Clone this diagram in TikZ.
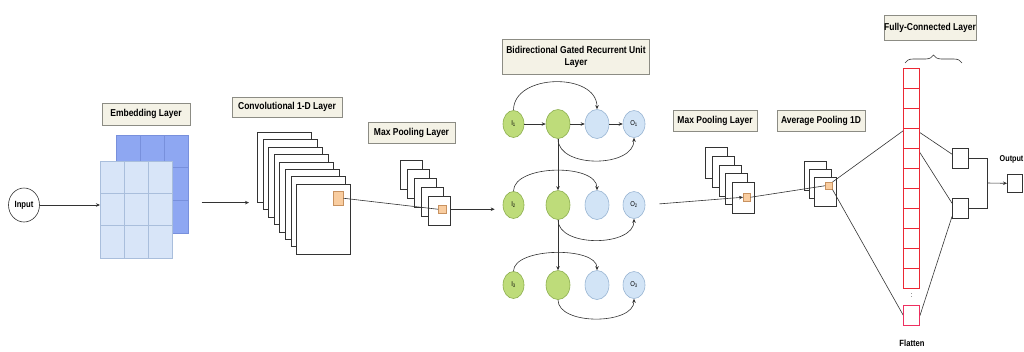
\documentclass[tikz,border=0pt]{standalone}
\usepackage{fontspec}
\setmainfont{Liberation Sans}[FakeStretch=0.85]
\usetikzlibrary{arrows.meta,decorations.pathreplacing,calc,shapes.geometric}

\definecolor{lblfill}{HTML}{F4F2E6}
\definecolor{lbldraw}{HTML}{8C8C84}
\definecolor{embback}{HTML}{8EA7F2}
\definecolor{embbackline}{HTML}{7890DC}
\definecolor{embfront}{HTML}{D8E5F8}
\definecolor{embfrontline}{HTML}{A9BEDC}
\definecolor{orfill}{HTML}{F9CDA0}
\definecolor{ordraw}{HTML}{C89260}
\definecolor{grfill}{HTML}{BEDC7A}
\definecolor{grdraw}{HTML}{8CAE4E}
\definecolor{blfill}{HTML}{D2E4F6}
\definecolor{bldraw}{HTML}{98B4D2}
\definecolor{fcred}{RGB}{236,40,52}
\definecolor{fcpink}{RGB}{238,48,96}
\definecolor{ln}{HTML}{333333}

\begin{document}
\begin{tikzpicture}[x=1pt,y=-1pt,
  lbl/.style={draw=lbldraw, fill=lblfill, inner sep=0pt, font=\fontsize{10}{12}\selectfont\bfseries, align=center},
  sheet/.style={draw=ln, fill=white, line width=0.6pt, inner sep=0pt, anchor=north west},
  orsq/.style={draw=ordraw, fill=orfill, line width=0.5pt, inner sep=0pt, anchor=north west},
  gnode/.style={ellipse, draw=grdraw, fill=grfill, line width=0.6pt, inner sep=0pt, font=\fontsize{7}{8}\selectfont},
  bnode/.style={ellipse, draw=bldraw, fill=blfill, line width=0.6pt, inner sep=0pt, font=\fontsize{7}{8}\selectfont},
  fccell/.style={rectangle, fill=white, inner sep=0pt, anchor=north west, minimum width=16pt, minimum height=20pt},
  redline/.style={color=fcred, line width=1pt},
  smallbox/.style={draw=ln, fill=white, line width=0.6pt, inner sep=0pt, anchor=north west},
  conn/.style={draw=ln, line width=0.6pt},
  arr/.style={conn, -{Stealth[length=4pt,width=3.5pt]}},
  plain/.style={font=\fontsize{9}{10}\selectfont\bfseries}
]
\useasboundingbox (0,0) rectangle (1024,351);

% ---------- Input ----------
\node[ellipse, draw=ln, line width=0.6pt, minimum width=31pt, minimum height=34pt, inner sep=0pt, plain] (inp) at (24,205) {Input};

% ---------- Embedding ----------
\node[lbl, minimum width=88pt, minimum height=22pt] (lemb) at (146,114) {Embedding Layer};
\node[draw=embbackline, fill=embback, line width=0.5pt, minimum width=72pt, minimum height=98pt, inner sep=0pt, anchor=north west] (embB) at (116,135) {};
\draw[embbackline, line width=0.5pt] (140,135) -- (140,233) (164,135) -- (164,233)
  (116,167.7) -- (188,167.7) (116,200.3) -- (188,200.3);
\node[draw=embfrontline, fill=embfront, line width=0.5pt, minimum width=72pt, minimum height=97pt, inner sep=0pt, anchor=north west] (embF) at (100,161) {};
\draw[embfrontline, line width=0.5pt] (124,161) -- (124,258) (148,161) -- (148,258)
  (100,193.3) -- (172,193.3) (100,225.7) -- (172,225.7);
\draw[arr] (inp.east) -- (inp.east -| embF.west);

% ---------- Convolutional ----------
\node[lbl, minimum width=110pt, minimum height=20pt] (lconv) at (287,107) {Convolutional 1-D Layer};
\foreach \i in {0,...,7} {
  \node[sheet, minimum width=54pt, minimum height=70pt] (cv\i) at ({257+5.6*\i},{132+7.4*\i}) {};
}
\node[orsq, minimum width=10pt, minimum height=14pt] (cvo) at (333,191) {};
\draw[arr, shorten <=13pt, shorten >=8pt] (embB.east |- cv0.south west) -- (cv0.south west);

% ---------- Max pooling 1 ----------
\node[lbl, minimum width=87pt, minimum height=21pt] (lmp1) at (411.5,132.5) {Max Pooling Layer};
\foreach \i in {0,...,4} {
  \node[sheet, minimum width=22pt, minimum height=29pt] (mpa\i) at ({400+7*\i},{160+9*\i}) {};
}
\node[orsq, minimum width=8pt, minimum height=8pt] (mp1o) at (438,205) {};
\draw[conn] (cvo.east) -- (mp1o.west);

% ---------- GRU ----------
\node[lbl, minimum width=147pt, minimum height=35pt] (lgru) at (576,56.5) {Bidirectional Gated Recurrent Unit\\Layer};
\foreach \r/\y in {1/124,2/205,3/285} {
  \node[gnode, minimum width=21pt, minimum height=27pt] (I\r) at (513.5,\y) {I\textsubscript{\r}};
  \node[gnode, minimum width=24pt, minimum height=29pt] (M\r) at (558,\y) {};
  \node[bnode, minimum width=24pt, minimum height=29pt] (B\r) at (597,\y) {};
  \node[bnode, minimum width=22pt, minimum height=27pt] (O\r) at (634,\y) {O\textsubscript{\r}};
}
\draw[arr] (I1) -- (M1);
\draw[arr] (M1) -- (B1);
\draw[arr] (B1) -- (O1);
\draw[arr] (I1.north) .. controls +(0,-37) and +(0,-37) .. (B1.north);
\draw[arr] (I2.north) .. controls +(0,-27) and +(0,-27) .. (B2.north);
\draw[arr] (I3.north) .. controls +(0,-24) and +(0,-24) .. (B3.north);
\draw[arr] (M1.south) .. controls +(0,30) and +(0,30) .. (O1.south);
\draw[arr] (M2.south) .. controls +(0,28) and +(0,28) .. (O2.south);
\draw[arr] (M3.south) .. controls +(0,26) and +(0,26) .. (O3.south);
\draw[arr] (M1.south) -- (M2.north);
\draw[arr] (M2.south) -- (M3.north);
\draw[arr, shorten >=8pt] (mp1o.east -| mpa4.east) -- (I2.west |- mp1o.east);

% ---------- Max pooling 2 ----------
\node[lbl, minimum width=84pt, minimum height=21pt] (lmp2) at (715,120.5) {Max Pooling Layer};
\foreach \i in {0,...,4} {
  \node[sheet, minimum width=22pt, minimum height=31pt] (mpb\i) at ({705+6.75*\i},{147+8.75*\i}) {};
}
\node[orsq, minimum width=7pt, minimum height=8pt] (mp2o) at (743,193) {};
\draw[arr, shorten <=14pt] (O2.east) -- (mp2o.west);

% ---------- Average pooling ----------
\node[lbl, minimum width=88pt, minimum height=21pt] (lavg) at (821,120.5) {Average Pooling 1D};
\foreach \i in {0,...,2} {
  \node[sheet, minimum width=22pt, minimum height=29pt] (avb\i) at ({804+5*\i},{161+8*\i}) {};
}
\node[orsq, minimum width=7pt, minimum height=7pt] (avo) at (825,182) {};
\draw[conn] (mp2o.east) -- (avo.west);

% ---------- Fully connected / Flatten ----------
\node[lbl, minimum width=84pt, minimum height=25pt] (lfc) at (930,27.5) {Fully-Connected Layer};
\draw[decorate, decoration={brace, amplitude=8pt}, ln, line width=0.6pt] (905,63) -- (962,63);

\node[smallbox, minimum width=16pt, minimum height=20pt] (ub) at (952,148) {};
\node[smallbox, minimum width=16pt, minimum height=20pt] (lb) at (952,198) {};
\node[smallbox, minimum width=15pt, minimum height=18pt] (outb) at (1007,174) {};
\node[font=\fontsize{8.5}{10}\selectfont\bfseries, anchor=west, inner sep=0pt] (outt) at (999.5,159) {Output};

\foreach \i in {1,...,11} {
  \node[fccell] (c\i) at (903.5,{68.5+20*(\i-1)}) {};
}
\node[fccell] (cb) at (903.5,305.5) {};
\node[font=\fontsize{7}{7}\selectfont] (dts) at (911.5,296) {:};
\node[plain] (flt) at (912,343) {Flatten};

\draw[conn] (avo.north east) -- ($(c4.north west)!0.1!(c4.south west)$);
\draw[conn] (avo.south east) -- (cb.west);
\draw[conn] ($(c4.north east)!0.2!(c4.south east)$) -- ($(ub.north west)!0.3!(ub.south west)$);
\draw[conn] ($(c5.north east)!0.2!(c5.south east)$) -- ($(lb.north west)!0.25!(lb.south west)$);
\draw[conn] (cb.east) -- ($(lb.north west)!0.9!(lb.south west)$);

\coordinate (jn) at (987,183);
\draw[conn] (ub.east) -| (jn) |- (lb.east);
\draw[arr] (jn) -- (outb.west);

% red outlines of the flatten column, drawn last
\draw[redline] (c1.north west) rectangle (c11.south east);
\foreach \i in {1,...,10} {
  \draw[redline] (c\i.south west) -- (c\i.south east);
}
\draw[redline, color=fcpink, line width=1.1pt] (cb.north west) rectangle (cb.south east);
\end{tikzpicture}
\end{document}
